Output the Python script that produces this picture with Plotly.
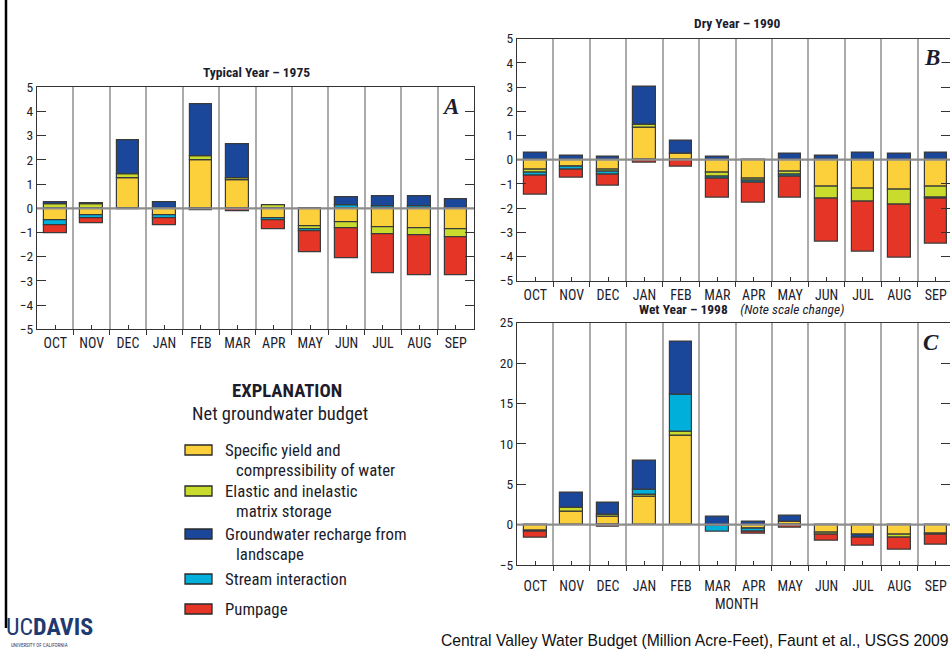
import plotly.graph_objects as go

months = ["OCT", "NOV", "DEC", "JAN", "FEB", "MAR", "APR", "MAY", "JUN", "JUL", "AUG", "SEP"]

# Typical year 1975 (million acre-feet)
yield_A = [-0.50, -0.30, 1.23, -0.27, 1.97, 1.14, -0.40, -0.75, -0.57, -0.79, -0.83, -0.87]
elastic_A = [0.15, 0.17, 0.16, -0.03, 0.19, 0.12, 0.12, -0.10, -0.26, -0.30, -0.30, -0.33]
recharge_A = [0.09, 0.03, 1.43, 0.245, 2.15, 1.39, 0.0, 0.0, 0.33, 0.42, 0.43, 0.37]
stream_A = [-0.19, -0.12, 0.0, -0.10, 0.0, 0.0, -0.10, -0.08, 0.12, 0.08, 0.07, 0.0]
pump_A = [-0.33, -0.22, -0.04, -0.30, -0.08, -0.11, -0.36, -0.88, -1.25, -1.60, -1.65, -1.57]

# Dry year 1990
yield_B = [-0.43, -0.28, -0.40, 1.34, 0.25, -0.54, -0.77, -0.51, -1.12, -1.19, -1.24, -1.12]
elastic_B = [-0.10, -0.02, -0.10, 0.12, 0.0, -0.15, -0.11, -0.12, -0.50, -0.55, -0.62, -0.46]
recharge_B = [0.29, 0.15, 0.11, 1.57, 0.52, 0.11, 0.0, 0.25, 0.17, 0.30, 0.25, 0.29]
stream_B = [-0.15, -0.13, -0.13, 0.0, 0.0, -0.10, -0.07, -0.07, 0.0, 0.0, 0.0, -0.05]
pump_B = [-0.77, -0.30, -0.45, -0.12, -0.30, -0.80, -0.82, -0.86, -1.78, -2.08, -2.17, -1.86]

# Wet year 1998
yield_C = [-0.70, 1.65, 1.03, 3.50, 11.0, -0.10, -0.45, 0.35, -0.95, -1.20, -1.20, -1.10]
elastic_C = [-0.20, 0.40, 0.20, 0.20, 0.55, 0.0, -0.10, 0.05, -0.30, 0.0, -0.40, -0.15]
recharge_C = [0.0, 1.95, 1.53, 3.62, 6.50, 0.95, 0.30, 0.75, 0.0, -0.40, 0.0, 0.0]
stream_C = [0.0, 0.0, 0.0, 0.62, 4.55, -0.80, -0.35, 0.0, 0.0, 0.0, 0.0, 0.0]
pump_C = [-0.75, 0.0, -0.20, 0.0, 0.0, 0.0, -0.25, -0.40, -0.80, -1.05, -1.45, -1.25]

series_names = ["Specific yield and compressibility of water", "Elastic and inelastic matrix storage",
                "Stream interaction", "Groundwater recharge from landscape", "Pumpage"]
colors = {"yield": "#FCD03B", "elastic": "#C9DB2C", "recharge": "#1B479A",
          "stream": "#00B0DA", "pump": "#E43526"}

W, H = 950, 650
def px(x): return x / W
def py(y): return 1 - y / H

FONT = "Liberation Sans Narrow, Arial Narrow, Roboto Condensed, Liberation Sans, sans-serif"
INK = "#1c1c2c"

fig = go.Figure()

panels = [
    ("x", "y", [yield_A, elastic_A, stream_A, recharge_A, pump_A]),
    ("x2", "y2", [yield_B, elastic_B, stream_B, recharge_B, pump_B]),
    ("x3", "y3", [yield_C, elastic_C, stream_C, recharge_C, pump_C]),
]
keys = ["yield", "elastic", "stream", "recharge", "pump"]
xidx = list(range(len(months)))
for xa, ya, data in panels:
    for k, name, vals in zip(keys, series_names, data):
        fig.add_trace(go.Bar(
            x=xidx, y=[v if v != 0 else None for v in vals], name=name,
            xaxis=xa, yaxis=ya, width=0.62, showlegend=False,
            marker=dict(color=colors[k], line=dict(color="#3a3a3a", width=1.2)),
        ))

def xaxis_cfg(domain, rng, standoff):
    return dict(
        domain=domain, range=rng, showgrid=False, zeroline=False,
        tickmode="array", tickvals=xidx, ticktext=months,
        ticks="inside", ticklen=4, tickcolor="#333", tickwidth=1,
        showline=True, linecolor="#333", linewidth=1.3, mirror=True,
        tickfont=dict(family=FONT, size=14, color=INK),
        ticklabelstandoff=standoff,
        minor=dict(tickvals=[i + 0.5 for i in range(-1, 12)], ticks="outside", ticklen=5,
                   tickcolor="#333", showgrid=True, gridcolor="#ababab", gridwidth=1.6),
    )

def yaxis_cfg(domain, rng, dtick, anchor):
    return dict(
        domain=domain, range=rng, dtick=dtick, anchor=anchor, showgrid=False, zeroline=False,
        ticks="inside", ticklen=9, tickcolor="#333", tickwidth=1.2,
        showline=True, linecolor="#333", linewidth=1.3, mirror="ticks",
        tickfont=dict(family=FONT, size=13.5, color=INK),
    )

xA = [px(37), px(474)]
xBC = [px(517), 1.0]
rng_full = [-0.5, 11.5]
rng_cut = [-0.5, -0.5 + (W - 517) / ((474 - 37) / 12)]

fig.update_layout(
    width=W, height=H, margin=dict(l=0, r=0, t=0, b=0, pad=0, autoexpand=False),
    paper_bgcolor="white", plot_bgcolor="white",
    barmode="relative", bargap=0,
    xaxis=dict(anchor="y", **xaxis_cfg(xA, rng_full, 1)),
    yaxis=yaxis_cfg([py(329.3), py(87.3)], [-5, 5], 1, "x"),
    xaxis2=dict(anchor="y2", **xaxis_cfg(xBC, rng_cut, 1)),
    yaxis2=yaxis_cfg([py(280.7), py(38.7)], [-5, 5], 1, "x2"),
    xaxis3=dict(anchor="y3", **xaxis_cfg(xBC, rng_cut, 8)),
    yaxis3=yaxis_cfg([py(565), py(322.7)], [-5, 25], 5, "x3"),
)

shapes = []
# zero lines drawn above the bars
for xa, ya in [("x", "y"), ("x2", "y2"), ("x3", "y3")]:
    shapes.append(dict(type="line", xref=f"{xa} domain", yref=ya, x0=0, x1=1, y0=0, y1=0,
                       line=dict(color="#8c8c8c", width=2.2), layer="above"))
# left slide border
shapes.append(dict(type="line", xref="paper", yref="paper", x0=px(6), x1=px(6), y0=py(0), y1=py(628),
                   line=dict(color="black", width=2.5)))

ann = []
def text(x, y, s, size=12, xanchor="center", family=FONT, color=INK, yanchor="middle", **kw):
    ann.append(dict(x=px(x), y=py(y), xref="paper", yref="paper", text=s, showarrow=False,
                    xanchor=xanchor, yanchor=yanchor, font=dict(family=family, size=size, color=color), **kw))

text(256, 72, "<b>Typical Year – 1975</b>", 13.5)
text(737, 23, "<b>Dry Year – 1990</b>", 13.5)
text(741, 309, "<b>Wet Year – 1998</b>    <i>(Note scale change)</i>", 13.5)
text(736, 604, "MONTH", 14)
SERIF = "Liberation Serif, DejaVu Serif, serif"
for lx, ly, lt in [(450, 106, "A"), (932, 58, "B"), (931, 342, "C")]:
    text(lx, ly, f"<b><i>{lt}</i></b>", 23, family=SERIF, bgcolor="white", borderpad=1)

# Explanation block
text(287, 391, "<b>EXPLANATION</b>", 18.7)
text(190, 414, "Net groundwater budget", 18.5, xanchor="left")
leg = [
    ("yield", 450, ["Specific yield and", "compressibility of water"]),
    ("elastic", 491, ["Elastic and inelastic", "matrix storage"]),
    ("recharge", 534, ["Groundwater recharge from", "landscape"]),
    ("stream", 579, ["Stream interaction"]),
    ("pump", 609, ["Pumpage"]),
]
for k, yy, lines in leg:
    shapes.append(dict(type="rect", xref="paper", yref="paper", x0=px(185), x1=px(212),
                       y0=py(yy + 5), y1=py(yy - 5), fillcolor=colors[k],
                       line=dict(color="#2a2a2a", width=1.3)))
    text(223, yy, lines[0], 16.8, xanchor="left")
    if len(lines) > 1:
        text(234, yy + 20, lines[1], 16.8, xanchor="left")

# footer and logo
text(950, 640, "Central Valley Water Budget (Million Acre-Feet), Faunt et al., USGS 2009", 15.7,
     xanchor="right", family="Liberation Sans, Arial, sans-serif", color="#111")
text(4, 643, "UC<b>DAVIS</b>", 24, xanchor="left", yanchor="bottom", color="#1F3A6E")
text(9, 650, "UNIVERSITY OF CALIFORNIA", 5, xanchor="left", yanchor="bottom", color="#1F3A6E")

fig.update_layout(shapes=shapes, annotations=ann)

fig.write_html("out.html", config={"displayModeBar": False},
               post_script="document.body.style.margin='0';document.body.style.overflow='hidden';")
